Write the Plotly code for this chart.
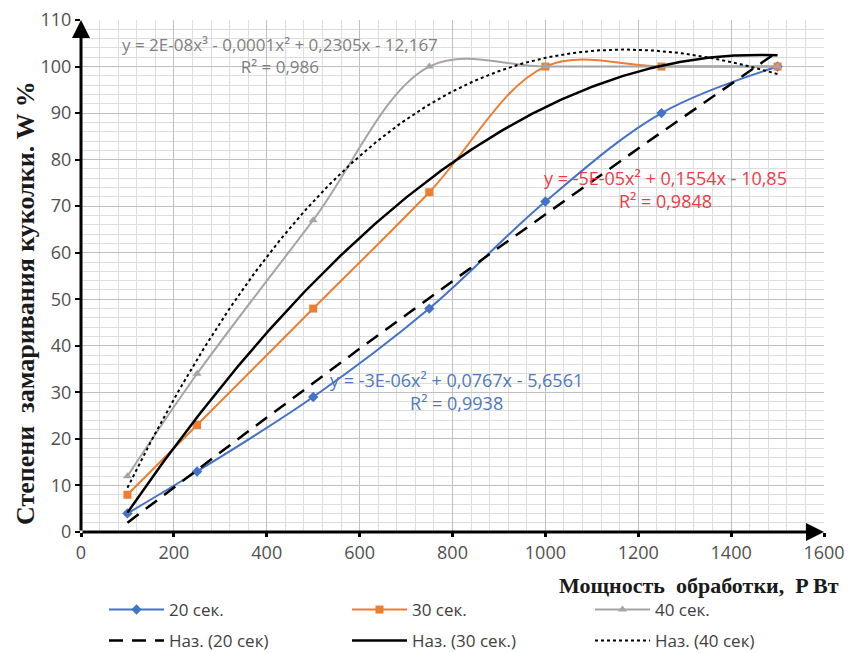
import numpy as np
import plotly.graph_objects as go

power = [100, 250, 500, 750, 1000, 1250, 1500]
s20 = [4, 13, 29, 48, 71, 90, 100]
s30 = [8, 23, 48, 73, 100, 100, 100]
s40 = [12, 34, 67, 100, 100, 100, 100]

x_ticks = [0, 200, 400, 600, 800, 1000, 1200, 1400, 1600]
y_ticks = [0, 10, 20, 30, 40, 50, 60, 70, 80, 90, 100, 110]

eq20 = "y = -3E-06x² + 0,0767x - 5,6561<br>R² = 0,9938"
eq30 = "y = -5E-05x² + 0,1554x - 10,85<br>R² = 0,9848"
eq40 = "y = 2E-08x³ - 0,0001x² + 0,2305x - 12,167<br>R² = 0,986"

BLUE = "#4472C4"
ORANGE = "#ED7D31"
GRAY = "#A5A5A5"

xs = np.linspace(min(power), max(power), 300)
p20 = np.polyfit(power, s20, 2)
p30 = np.polyfit(power, s30, 2)
p40 = np.polyfit(power, s40, 3)

fig = go.Figure()
fig.add_trace(go.Scatter(x=power, y=s20, name="20 сек.", mode="lines+markers",
                         line=dict(color=BLUE, width=2, shape="spline", smoothing=1),
                         marker=dict(symbol="diamond", size=8, color=BLUE), legend="legend"))
fig.add_trace(go.Scatter(x=power, y=s30, name="30 сек.", mode="lines+markers",
                         line=dict(color=ORANGE, width=2, shape="spline", smoothing=1),
                         marker=dict(symbol="square", size=8, color=ORANGE), legend="legend"))
fig.add_trace(go.Scatter(x=power, y=s40, name="40 сек.", mode="lines+markers",
                         line=dict(color=GRAY, width=2, shape="spline", smoothing=1),
                         marker=dict(symbol="triangle-up", size=8, color=GRAY), legend="legend"))
fig.add_trace(go.Scatter(x=xs, y=np.polyval(p20, xs), name="Наз. (20 сек)", mode="lines",
                         line=dict(color="black", width=2.5, dash="14px,9px"), legend="legend2"))
fig.add_trace(go.Scatter(x=xs, y=np.polyval(p30, xs), name="Наз. (30 сек.)", mode="lines",
                         line=dict(color="black", width=2.5), legend="legend2"))
fig.add_trace(go.Scatter(x=xs, y=np.polyval(p40, xs), name="Наз. (40 сек)", mode="lines",
                         line=dict(color="black", width=2, dash="dot"), legend="legend2"))

SANS = "Open Sans, Liberation Sans, sans-serif"
tick_font = dict(family=SANS, size=18, color="#505050")
leg_font = dict(family=SANS, size=17, color="#404040")

fig.update_xaxes(range=[0, 1600], tickvals=x_ticks, ticktext=[str(v) for v in x_ticks],
                 showgrid=True, gridcolor="#c0c0c0", gridwidth=1,
                 minor=dict(dtick=40, showgrid=True, gridcolor="#dedede", gridwidth=1),
                 ticks="outside", ticklen=4, tickwidth=3, tickcolor="black",
                 tickfont=tick_font, zeroline=False, showline=False, fixedrange=True)
fig.update_yaxes(range=[0, 110], tickvals=y_ticks, ticktext=[str(v) for v in y_ticks],
                 showgrid=True, gridcolor="#c0c0c0", gridwidth=1,
                 minor=dict(dtick=2, showgrid=True, gridcolor="#dedede", gridwidth=1),
                 ticks="outside", ticklen=5, tickwidth=2, tickcolor="black",
                 tickfont=tick_font, zeroline=False, showline=False, fixedrange=True)

L, R, T, B = 81, 24, 20, 121
W, H = 848, 653
pw, ph = W - L - R, H - T - B


def px_x(p):
    return (p - L) / pw


def px_y(p):
    return (H - B - p) / ph


annotations = [
    # axis arrows
    dict(x=0, y=110, ax=0, ay=0, xref="x", yref="y", axref="x", ayref="y", text="",
         showarrow=True, arrowhead=2, arrowsize=1.2, arrowwidth=3, arrowcolor="black"),
    dict(x=1600, y=0, ax=0, ay=0, xref="x", yref="y", axref="x", ayref="y", text="",
         showarrow=True, arrowhead=2, arrowsize=1.2, arrowwidth=3, arrowcolor="black"),
    # equations
    dict(x=px_x(280), y=px_y(55), xref="paper", yref="paper", text=eq40, showarrow=False,
         xanchor="center", yanchor="middle",
         font=dict(family=SANS, size=17, color="#808080")),
    dict(x=px_x(665), y=px_y(189), xref="paper", yref="paper", text=eq30, showarrow=False,
         xanchor="center", yanchor="middle",
         font=dict(family=SANS, size=18, color="#F03A47")),
    dict(x=px_x(456), y=px_y(391), xref="paper", yref="paper", text=eq20, showarrow=False,
         xanchor="center", yanchor="middle",
         font=dict(family=SANS, size=18, color="#4F79BD")),
    # axis titles
    dict(x=px_x(25), y=px_y(303), xref="paper", yref="paper",
         text="<b>Степени  замаривания куколки. W %</b>",
         textangle=-90, showarrow=False, xanchor="center", yanchor="middle",
         font=dict(family="Liberation Serif, Times New Roman, serif", size=26, color="#1a1a1a")),
    dict(x=px_x(841), y=px_y(585), xref="paper", yref="paper",
         text="<b>Мощность  обработки,  P Вт</b>",
         xanchor="right", yanchor="middle", showarrow=False,
         font=dict(family="Liberation Serif, Times New Roman, serif", size=22, color="#1a1a1a")),
]

fig.update_layout(
    width=W, height=H,
    margin=dict(l=L, r=R, t=T, b=B, autoexpand=False),
    plot_bgcolor="white", paper_bgcolor="white",
    annotations=annotations,
    legend=dict(orientation="h", x=px_x(104), y=px_y(610), xanchor="left", yanchor="middle",
                entrywidth=173, itemwidth=55, font=leg_font, bgcolor="rgba(0,0,0,0)"),
    legend2=dict(orientation="h", x=px_x(104), y=px_y(641), xanchor="left", yanchor="middle",
                 entrywidth=173, itemwidth=55, font=leg_font, bgcolor="rgba(0,0,0,0)"),
)

fig.write_html("out.html")
